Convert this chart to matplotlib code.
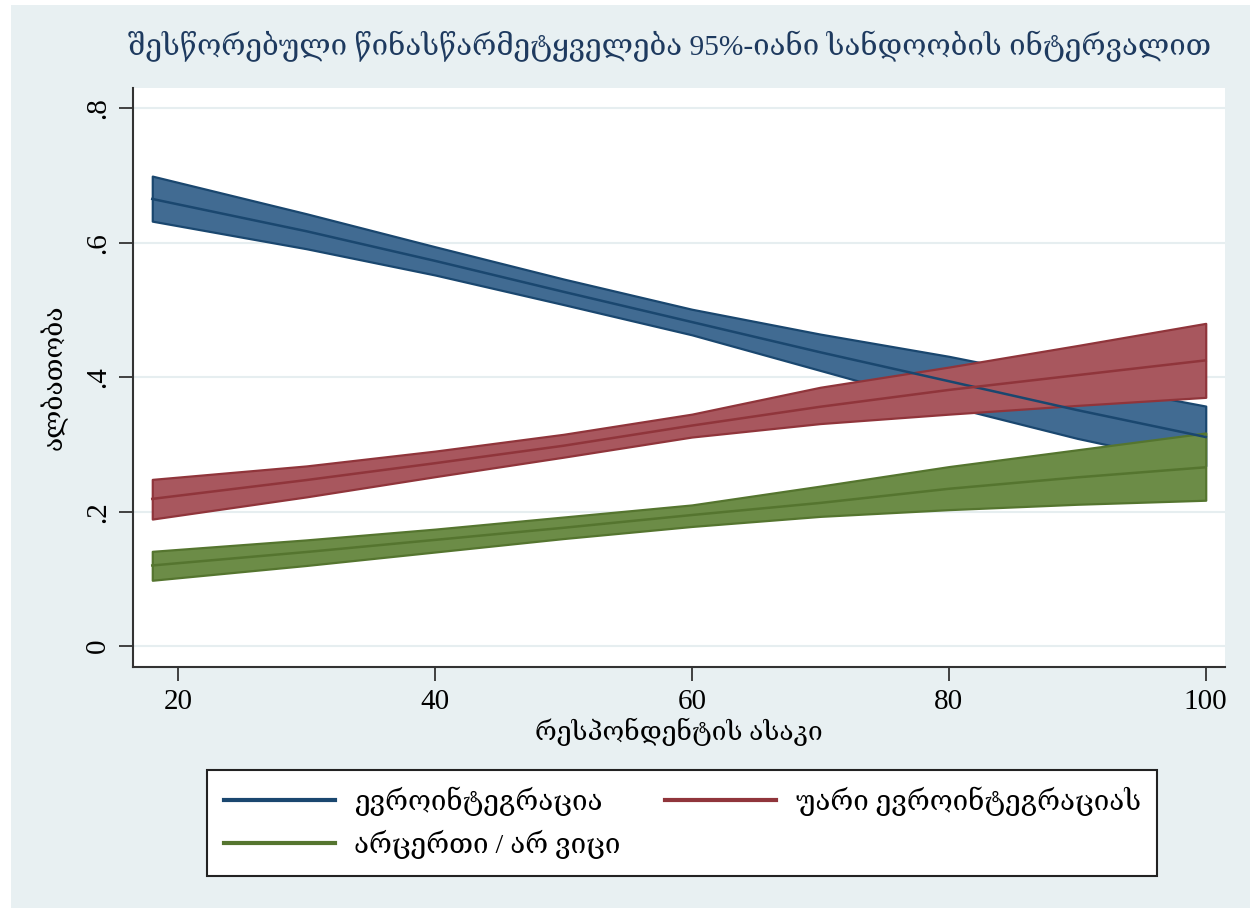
import matplotlib
matplotlib.use("Agg")
import matplotlib.pyplot as plt
from matplotlib.lines import Line2D
from matplotlib.patches import Rectangle

plt.rcParams['font.family'] = ['Liberation Serif', 'DejaVu Serif']

# ასაკი და პროგნოზირებული ალბათობები (95% CI)
ages = [18, 30, 40, 50, 60, 70, 80, 90, 100]

euro_mean = [0.665, 0.617, 0.573, 0.527, 0.482, 0.437, 0.394, 0.351, 0.311]
euro_hi = [0.699, 0.643, 0.594, 0.546, 0.501, 0.464, 0.431, 0.393, 0.357]
euro_lo = [0.632, 0.591, 0.552, 0.508, 0.463, 0.410, 0.357, 0.309, 0.268]

no_mean = [0.219, 0.247, 0.272, 0.298, 0.328, 0.356, 0.381, 0.403, 0.425]
no_hi = [0.248, 0.268, 0.290, 0.315, 0.345, 0.385, 0.415, 0.447, 0.480]
no_lo = [0.189, 0.222, 0.252, 0.281, 0.311, 0.331, 0.345, 0.358, 0.370]

none_mean = [0.120, 0.140, 0.158, 0.176, 0.195, 0.213, 0.234, 0.251, 0.266]
none_hi = [0.141, 0.158, 0.174, 0.192, 0.210, 0.238, 0.267, 0.292, 0.317]
none_lo = [0.098, 0.120, 0.140, 0.160, 0.178, 0.193, 0.203, 0.211, 0.217]

labels = ["ევროინტეგრაცია", "უარი ევროინტეგრაციას", "არცერთი / არ ვიცი"]
title = "შესწორებული წინასწარმეტყველება 95%-იანი სანდოობის ინტერვალით"
xticks = [20, 40, 60, 80, 100]
yticks = [0, 0.2, 0.4, 0.6, 0.8]
yticklabels = ["0", ".2", ".4", ".6", ".8"]

line_cols = ["#1a476f", "#90353b", "#55752f"]
fill_cols = ["#416b92", "#a8575e", "#6c8c47"]
bg = "#e8f0f2"

fig = plt.figure(figsize=(12.5, 9.08), dpi=100, facecolor="white")
fig.patches.append(Rectangle((11 / 1250, 0), 1, 1 - 5 / 908, transform=fig.transFigure,
                             facecolor=bg, edgecolor="none", zorder=-10))
ax = fig.add_axes([133 / 1250, 1 - 667 / 908, (1225 - 133) / 1250, (667 - 88) / 908])
ax.set_facecolor("white")

bands = [(euro_lo, euro_hi, euro_mean), (no_lo, no_hi, no_mean), (none_lo, none_hi, none_mean)]
for i, (lo, hi, mean) in enumerate(bands):
    ax.fill_between(ages, lo, hi, facecolor=fill_cols[i], edgecolor=line_cols[i],
                    linewidth=1.6, zorder=2)
for i, (lo, hi, mean) in enumerate(bands):
    ax.plot(ages, mean, color=line_cols[i], linewidth=1.8, zorder=3)

ax.set_xlim(16.5, 101.5)
ax.set_ylim(-0.031, 0.83)
ax.set_xticks(xticks)
ax.set_yticks(yticks)
ax.set_yticklabels(yticklabels, rotation=90, va="center")
ax.grid(axis="y", color="#e6eef0", linewidth=1.5, zorder=0)
ax.set_axisbelow(True)
for s in ["top", "right"]:
    ax.spines[s].set_visible(False)
for s in ["left", "bottom"]:
    ax.spines[s].set_color("#333333")
    ax.spines[s].set_linewidth(1.5)
ax.tick_params(axis="both", length=10, width=1.3, color="#333333", labelsize=21, pad=6)
ax.set_xlabel("რესპონდენტის ასაკი", fontsize=19, labelpad=2)
ax.set_ylabel("ალბათობა", fontsize=19, labelpad=12)
fig.text(0.536, 1 - 46 / 908, title, ha="center", va="center", fontsize=21.2, color="#1e3a5f")

handles = [Line2D([], [], color=line_cols[0], linewidth=3),
           Line2D([], [], color=line_cols[2], linewidth=3),
           Line2D([], [], color=line_cols[1], linewidth=3)]
leg = fig.legend(handles, [labels[0], labels[2], labels[1]], ncol=2,
                 loc="upper left", bbox_to_anchor=(207 / 1250, 1 - 770 / 908),
                 borderaxespad=0, fontsize=20, handlelength=4.0, handletextpad=0.7,
                 columnspacing=1.6, frameon=True, fancybox=False, framealpha=1,
                 borderpad=0.6, labelspacing=0.5)
leg.get_frame().set_edgecolor("#222222")
leg.get_frame().set_facecolor("white")
leg.get_frame().set_linewidth(1.5)

fig.savefig("out.png", dpi=100, facecolor=fig.get_facecolor())
